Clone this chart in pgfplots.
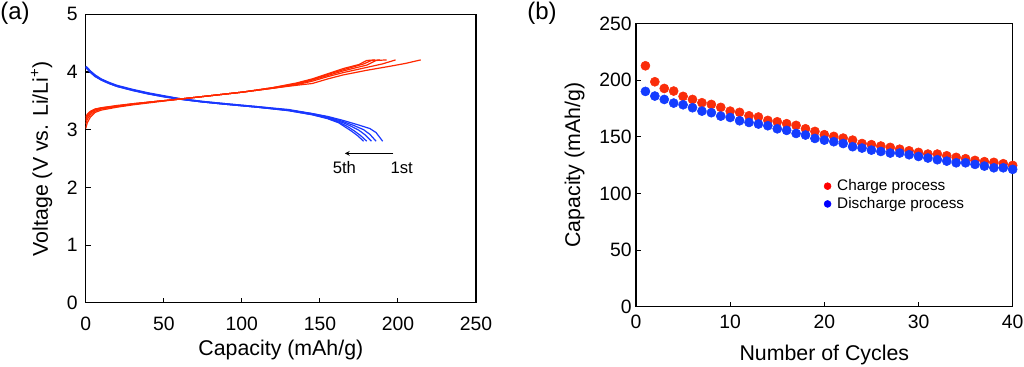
\documentclass[border=0pt]{standalone}
\usepackage{pgfplots}
\pgfplotsset{compat=1.18}
\usepackage{fontspec}
\setmainfont{Liberation Sans}
\definecolor{cred}{RGB}{255,40,0}
\definecolor{cblue}{RGB}{25,55,255}
\definecolor{mred}{RGB}{250,45,10}
\definecolor{mblue}{RGB}{20,60,255}
\pgfplotsset{
  myaxis/.style={
    anchor=south west, scale only axis,
    axis line style={line width=0.9pt},
    tick align=inside, xtick pos=bottom, ytick pos=left,
    major tick length=3.75pt,
    tick style={black, line width=0.8pt},
    /pgf/number format/assume math mode=true,
    tick label style={font=\fontsize{14.5}{16}\selectfont},
    label style={font=\fontsize{16}{18}\selectfont},
  }
}
\begin{document}
\begin{tikzpicture}
\useasboundingbox (0,0) rectangle (768pt,275.25pt);
\node[anchor=west, inner sep=0pt, font=\fontsize{18}{20}\selectfont] at (0pt,265.5pt) {(a)};
\node[anchor=west, inner sep=0pt, font=\fontsize{18}{20}\selectfont] at (395.25pt,265.5pt) {(b)};
\begin{axis}[myaxis,
  at={(64.3pt,48.2pt)}, width=292.7pt, height=216.3pt,
  xmin=0, xmax=250, ymin=0, ymax=5,
  xtick={0,50,...,250}, ytick={0,1,...,5},
  xticklabel style={yshift=-7pt},
  yticklabel style={xshift=-2.6pt},
  xlabel={Capacity (mAh/g)}, ylabel={Voltage (V vs. Li/Li\textsuperscript{+})},
  xlabel style={at={(axis description cs:0.5,-0.163)}, anchor=center},
  ylabel style={at={(axis description cs:-0.113,0.5)}, anchor=center},
]
% discharge curves
\addplot[cblue, line width=0.9pt] coordinates {(0,4.10)(1,4.08)(3,4.02)(6,3.95)(10,3.88)(15,3.82)(20,3.77)(30,3.70)(40,3.64)(50,3.59)(60,3.54)(75,3.49)(90,3.45)(110,3.40)(130,3.35)(145,3.28)(155,3.23)(165,3.16)(175,3.08)(182,3.02)(186,2.95)(190.2,2.80)};
\addplot[cblue, line width=0.9pt] coordinates {(0,4.09)(1,4.07)(3,4.01)(6,3.94)(10,3.87)(15,3.81)(20,3.76)(30,3.69)(40,3.63)(50,3.58)(60,3.54)(75,3.49)(90,3.45)(110,3.40)(130,3.34)(145,3.28)(155,3.22)(165,3.14)(172,3.07)(178,3.00)(182,2.92)(186,2.80)};
\addplot[cblue, line width=0.9pt] coordinates {(0,4.08)(1,4.06)(3,4.00)(6,3.93)(10,3.87)(15,3.81)(20,3.76)(30,3.69)(40,3.63)(50,3.58)(60,3.53)(75,3.48)(90,3.44)(110,3.39)(130,3.34)(145,3.27)(155,3.21)(165,3.12)(170,3.06)(175,2.99)(179,2.91)(183,2.80)};
\addplot[cblue, line width=0.9pt] coordinates {(0,4.08)(1,4.06)(3,4.00)(6,3.93)(10,3.86)(15,3.80)(20,3.75)(30,3.68)(40,3.62)(50,3.57)(60,3.53)(75,3.48)(90,3.44)(110,3.39)(130,3.33)(145,3.26)(155,3.20)(163,3.12)(168,3.05)(172,2.98)(176,2.90)(180,2.80)};
\addplot[cblue, line width=0.9pt] coordinates {(0,4.07)(1,4.05)(3,3.99)(6,3.92)(10,3.86)(15,3.80)(20,3.75)(30,3.68)(40,3.62)(50,3.57)(60,3.53)(75,3.48)(90,3.44)(110,3.39)(130,3.33)(145,3.26)(155,3.19)(162,3.12)(166,3.05)(170,2.98)(174,2.90)(178,2.80)};
% charge curves
\addplot[cred, line width=0.9pt] coordinates {(0,3.02)(1,3.12)(3,3.22)(6,3.30)(10,3.34)(20,3.39)(30,3.43)(45,3.48)(60,3.53)(80,3.59)(100,3.65)(120,3.72)(135,3.77)(145,3.80)(155,3.88)(165,3.95)(180,4.03)(195,4.10)(205,4.15)(214.6,4.21)};
\addplot[cred, line width=0.9pt] coordinates {(0,3.10)(1,3.18)(3,3.26)(6,3.32)(10,3.36)(20,3.40)(30,3.44)(45,3.49)(60,3.53)(80,3.59)(100,3.65)(120,3.72)(135,3.78)(145,3.84)(155,3.92)(165,3.99)(180,4.08)(190,4.14)(198.5,4.21)};
\addplot[cred, line width=0.9pt] coordinates {(0,3.15)(1,3.22)(3,3.29)(6,3.34)(10,3.37)(20,3.41)(30,3.44)(45,3.49)(60,3.53)(80,3.59)(100,3.65)(120,3.72)(135,3.79)(145,3.86)(155,3.94)(165,4.02)(180,4.12)(186,4.20)(192.8,4.21)};
\addplot[cred, line width=0.9pt] coordinates {(0,3.18)(1,3.25)(3,3.31)(6,3.35)(10,3.38)(20,3.41)(30,3.45)(45,3.49)(60,3.53)(80,3.59)(100,3.65)(120,3.73)(135,3.80)(145,3.87)(155,3.96)(165,4.04)(178,4.14)(183,4.20)(188.5,4.21)};
\addplot[cred, line width=0.9pt] coordinates {(0,3.22)(1,3.27)(3,3.32)(6,3.36)(10,3.38)(20,3.42)(30,3.45)(45,3.49)(60,3.53)(80,3.59)(100,3.65)(120,3.73)(135,3.81)(145,3.88)(155,3.97)(165,4.06)(175,4.13)(180,4.20)(185.3,4.21)};
\draw[-stealth, line width=0.6pt] (axis cs:197,2.59) -- (axis cs:166,2.59);
\node[font=\fontsize{12.5}{14}\selectfont] at (axis cs:165.7,2.34) {5th};
\node[font=\fontsize{12.5}{14}\selectfont] at (axis cs:202.4,2.34) {1st};
\end{axis}
\begin{axis}[myaxis,
  at={(477pt,45.2pt)}, width=282.5pt, height=212.5pt,
  xmin=0, xmax=40, ymin=0, ymax=250,
  xtick={0,10,...,40}, ytick={0,50,...,250},
  xticklabel style={yshift=-2.5pt},
  yticklabel style={xshift=0.3pt},
  xlabel={Number of Cycles}, ylabel={Capacity (mAh/g)},
  xlabel style={at={(axis description cs:0.5,-0.170)}, anchor=center},
  ylabel style={at={(axis description cs:-0.163,0.5)}, anchor=center},
  clip=false,
  legend style={at={(axis description cs:0.498,0.459)}, anchor=north west, draw=none, fill=none, inner sep=0pt,
    font=\fontsize{11.5}{13}\selectfont, row sep=-0.5pt},
  legend cell align=left,
]
\addplot[only marks, mark=*, mark size=3.4pt, mred, forget plot] coordinates {
(1,212.6)(2,198.5)(3,192.6)(4,190.3)(5,185.6)(6,182.9)(7,180.0)(8,178.5)(9,175.9)(10,172.6)
(11,171.5)(12,168.5)(13,167.4)(14,164.4)(15,163.2)(16,161.5)(17,160.0)(18,157.0)(19,154.7)(20,151.8)
(21,150.3)(22,148.8)(23,147.0)(24,144.0)(25,143.0)(26,141.8)(27,140.6)(28,139.0)(29,137.6)(30,136.2)
(31,134.7)(32,134.7)(33,133.2)(34,131.8)(35,130.6)(36,129.1)(37,128.0)(38,127.4)(39,126.2)(40,124.7)};
\addplot[only marks, mark=*, mark size=3.4pt, mblue, forget plot] coordinates {
(1,190.0)(2,185.9)(3,182.9)(4,179.7)(5,178.2)(6,175.6)(7,172.6)(8,171.2)(9,168.2)(10,167.0)
(11,164.1)(12,162.6)(13,161.2)(14,159.7)(15,157.0)(16,155.6)(17,152.9)(18,151.5)(19,148.5)(20,147.0)
(21,145.6)(22,144.0)(23,141.2)(24,140.0)(25,138.2)(26,137.0)(27,135.6)(28,135.6)(29,134.1)(30,132.6)
(31,131.2)(32,129.7)(33,128.5)(34,127.0)(35,127.0)(36,125.6)(37,124.1)(38,122.6)(39,122.6)(40,121.2)};
\addlegendimage{color=red, legend image code/.code={\fill (0pt,0pt) circle (2.6pt); \path (5pt,0pt);}}
\addlegendentry{Charge process}
\addlegendimage{color=blue, legend image code/.code={\fill (0pt,0pt) circle (2.6pt); \path (5pt,0pt);}}
\addlegendentry{Discharge process}
\end{axis}
\end{tikzpicture}
\end{document}
